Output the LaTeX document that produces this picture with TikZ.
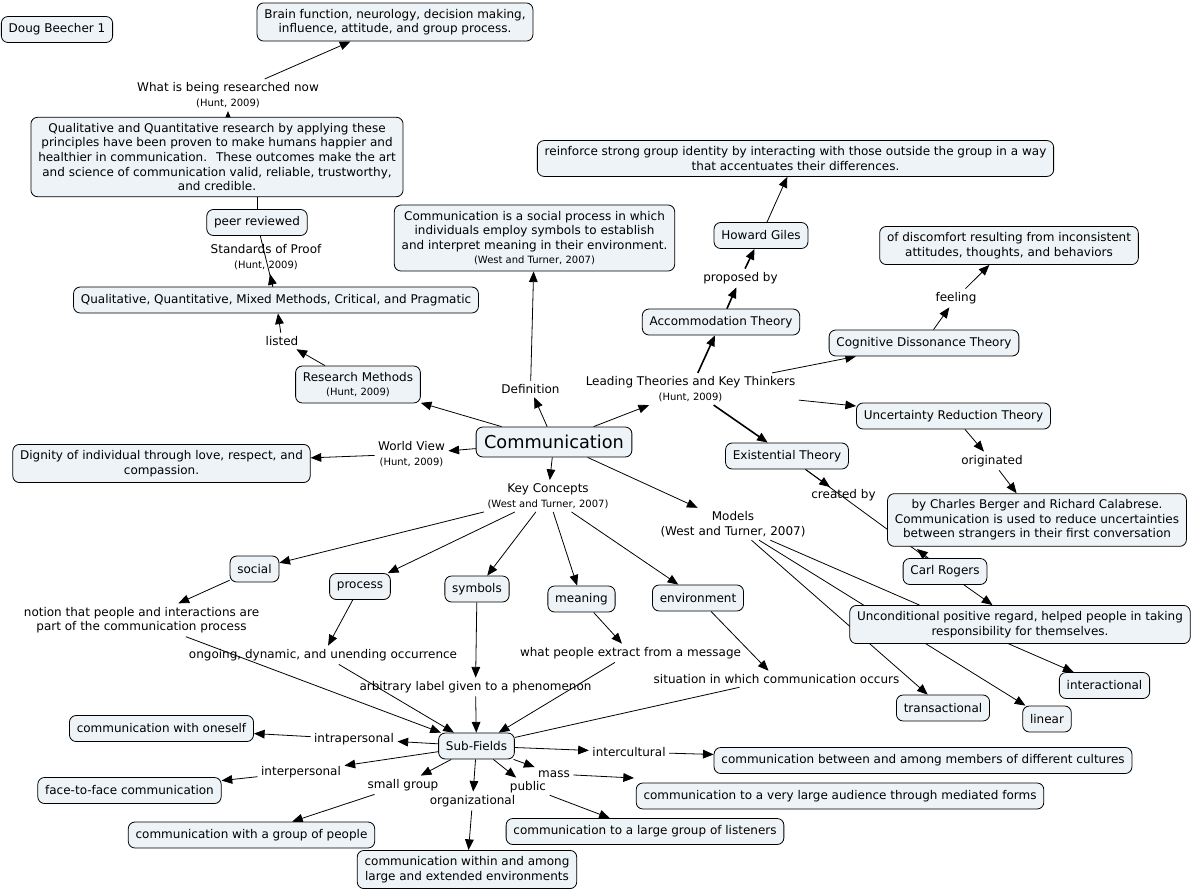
\documentclass[tikz,border=0pt]{standalone}
\usepackage{fontspec}
\setmainfont{DejaVu Sans}
\usetikzlibrary{arrows.meta,backgrounds}
\definecolor{cmapfill}{RGB}{237,243,246}
\newcommand{\hsrc}[1]{{\fontsize{7.5}{9}\selectfont #1}}

\begin{document}
\begin{tikzpicture}[x=0.75pt,y=-0.75pt,
    every node/.style={font=\fontsize{9}{10.9}\selectfont},
    concept/.style={draw, fill=cmapfill, rounded corners=5pt, align=center,
        inner xsep=5.5pt, inner ysep=4.5pt, minimum height=19.5pt, line width=0.6pt},
    linkph/.style={align=center, inner sep=2.5pt},
    arr/.style={-{Triangle[length=8pt,width=6.5pt]}, line width=0.6pt},
    ln/.style={line width=0.6pt},
    thk/.style={line width=1.2pt}]
    \useasboundingbox (0,0) rectangle (1193,893);

    % top left: research
    \node[concept] (doug) at (57,29.5) {Doug Beecher 1};
    \node[concept] (brain) at (395,22) {Brain function, neurology, decision making,\\influence, attitude, and group process.};
    \node[linkph] (wbr) at (228,95) {What is being researched now\\\hsrc{(Hunt, 2009)}};
    \node[concept] (qual) at (217,157) {Qualitative and Quantitative research by applying these\\principles have been proven to make humans happier and\\healthier in communication.~ These outcomes make the art\\and science of communication valid, reliable, trustworthy,\\and credible.};
    \node[concept] (peer) at (257,222.5) {peer reviewed};
    \node[linkph] (sop) at (266,257) {Standards of Proof\\\hsrc{(Hunt, 2009)}};
    \node[concept] (qq) at (276,300) {Qualitative, Quantitative, Mixed Methods, Critical, and Pragmatic};
    \node[linkph] (listed) at (282,341) {listed};
    \node[concept] (resm) at (358,384.5) {Research Methods\\\hsrc{(Hunt, 2009)}};
    \coordinate (qqtip) at (270,274);

    % centre
    \node[concept, font=\fontsize{13.3}{16}\selectfont, inner xsep=6pt, minimum height=22.5pt] (comm) at (554,442) {Communication};
    \node[linkph] (defn) at (530.5,389) {Definition};
    \node[concept] (sproc) at (534.5,238) {Communication is a social process in which\\individuals employ symbols to establish\\and interpret meaning in their environment.\\\hsrc{(West and Turner, 2007)}};
    \node[linkph] (wview) at (411.5,454) {World View\\\hsrc{(Hunt, 2009)}};
    \node[concept] (dign) at (161.5,463.5) {Dignity of individual through love, respect, and\\compassion.};
    \node[linkph] (keyc) at (548,496) {Key Concepts\\\hsrc{(West and Turner, 2007)}};

    % key concepts
    \node[concept] (social) at (254.5,569) {social};
    \node[linkph] (notion) at (141.5,620) {notion that people and interactions are\\part of the communication process};
    \node[concept] (process) at (360,586.5) {process};
    \node[linkph] (ongoing) at (323,655) {ongoing, dynamic, and unending occurrence};
    \node[concept] (symbols) at (477,589) {symbols};
    \node[linkph] (arbit) at (475.5,687) {arbitrary label given to a phenomenon};
    \node[concept] (meaning) at (581.5,599) {meaning};
    \node[linkph] (whatp) at (630.5,653) {what people extract from a message};
    \node[concept] (environ) at (698,598) {environment};
    \node[linkph] (situ) at (776.5,679) {situation in which communication occurs};

    % sub-fields
    \node[concept] (subf) at (476.5,746) {Sub-Fields};
    \node[linkph] (intra) at (354,739) {intrapersonal};
    \node[concept] (oneself) at (161.5,728.5) {communication with oneself};
    \node[linkph] (inter) at (301,772) {interpersonal};
    \node[concept] (f2f) at (129.5,790.5) {face-to-face communication};
    \node[linkph] (smallg) at (403,785) {small group};
    \node[concept] (withg) at (251.5,835) {communication with a group of people};
    \node[linkph] (organ) at (472.5,801) {organizational};
    \node[concept] (within) at (467,869.5) {communication within and among\\large and extended environments};
    \node[linkph] (public) at (528,787) {public};
    \node[concept] (listen) at (645,831.5) {communication to a large group of listeners};
    \node[linkph] (mass) at (554,774) {mass};
    \node[concept] (vlarge) at (840,796) {communication to a very large audience through mediated forms};
    \node[linkph] (icult) at (629,752) {intercultural};
    \node[concept] (between) at (923,760.5) {communication between and among members of different cultures};

    % theories and models
    \node[linkph] (leading) at (690.5,389) {Leading Theories and Key Thinkers\\\hsrc{(Hunt, 2009)}};
    \node[concept] (accom) at (721,322) {Accommodation Theory};
    \node[linkph] (propby) at (740.5,278) {proposed by};
    \node[concept] (giles) at (761,235.5) {Howard Giles};
    \node[concept] (reinf) at (795.5,158.5) {reinforce strong group identity by interacting with those outside the group in a way\\that accentuates their differences.};
    \node[concept] (cogn) at (924,343) {Cognitive Dissonance Theory};
    \node[linkph] (feeling) at (956,298) {feeling};
    \node[concept] (discom) at (1009,245.5) {of discomfort resulting from inconsistent\\attitudes, thoughts, and behaviors};
    \node[concept] (uncert) at (953.5,416) {Uncertainty Reduction Theory};
    \node[linkph] (orig) at (992,461) {originated};
    \node[concept] (berger) at (1037,520) {by Charles Berger and Richard Calabrese.\\Communication is used to reduce uncertainties\\between strangers in their first conversation};
    \node[concept] (exist) at (787,456) {Existential Theory};
    \node[linkph] (created) at (843.5,495) {created by};
    \node[concept] (carl) at (945,571.5) {Carl Rogers};
    \node[concept] (uncond) at (1020,624.5) {Unconditional positive regard, helped people in taking\\responsibility for themselves.};
    \node[linkph] (models) at (733,524) {Models\\(West and Turner, 2007)};
    \node[concept] (transac) at (943,708) {transactional};
    \node[concept] (linear) at (1047,719) {linear};
    \node[concept] (interac) at (1104.5,685.5) {interactional};
    \coordinate (crtip) at (830,487);
    \coordinate (carltip) at (917,549);
    \coordinate (masstip) at (634,778);

    \begin{scope}[on background layer]
        \draw[arr] (wbr) -- (brain);
        \draw[arr] (wbr.south |- qual.north) -- (wbr);
        \draw[ln] (peer.north) -- (peer.north |- qual.south);
        \draw[ln] (peer) -- (qq);
        \draw[arr] (qq) -- (qqtip);
        \draw[arr] (resm) -- (listed);
        \draw[arr] (listed) -- (qq);

        \draw[arr] (comm) -- (resm);
        \draw[arr] (comm) -- (defn);
        \draw[arr] (defn) -- (sproc);
        \draw[arr] (comm) -- (wview);
        \draw[arr] (wview) -- (dign);
        \draw[arr] (comm) -- (keyc);
        \draw[arr] (comm) -- (leading);
        \draw[arr] (comm) -- (models);

        \foreach \k/\v in {social/notion, process/ongoing, symbols/arbit, meaning/whatp, environ/situ} {
            \draw[arr] (keyc) -- (\k);
            \draw[arr] (\k) -- (\v);
        }
        \foreach \v in {notion, ongoing, arbit, whatp} {\draw[arr] (\v) -- (subf);}
        \draw[ln] (situ) -- (subf);

        \foreach \l/\c in {intra/oneself, inter/f2f, smallg/withg, organ/within, public/listen, icult/between} {
            \draw[arr] (subf) -- (\l);
            \draw[arr] (\l) -- (\c);
        }
        \draw[arr] (subf) -- (mass);
        \draw[arr] (mass) -- (masstip);

        \draw[arr,thk] (leading) -- (accom);
        \draw[arr,thk] (accom) -- (propby);
        \draw[arr,thk] (propby) -- (giles);
        \draw[arr] (giles) -- (reinf);
        \draw[arr] (leading) -- (cogn);
        \draw[arr] (cogn) -- (feeling);
        \draw[arr] (feeling) -- (discom);
        \draw[arr] (leading) -- (uncert);
        \draw[arr] (uncert) -- (orig);
        \draw[arr] (orig) -- (berger);
        \draw[arr,thk] (leading) -- (exist);
        \draw[arr] (exist) -- (crtip);
        \draw[ln] (exist) -- (carl);
        \draw[arr] (carl) -- (carltip);
        \draw[arr] (carl) -- (uncond);
        \foreach \m in {transac, linear, interac} {\draw[arr] (models) -- (\m);}
    \end{scope}
\end{tikzpicture}
\end{document}
